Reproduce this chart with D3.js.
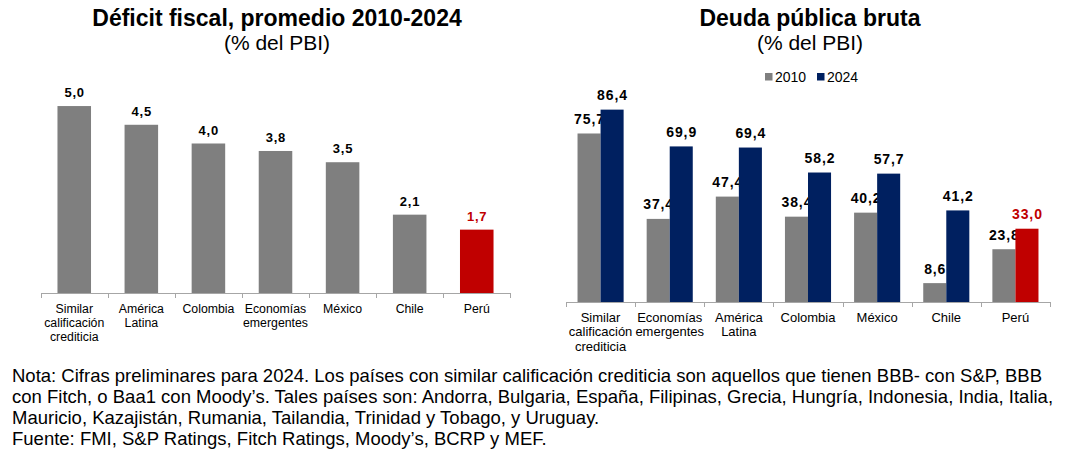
<!DOCTYPE html>
<html>
<head>
<meta charset="utf-8">
<script src="https://cdn.jsdelivr.net/npm/d3@7"></script>
<style>
  html,body{margin:0;padding:0;background:#fff;}
  svg{display:block;font-family:"Liberation Sans",Arial,sans-serif;}
  .axis path,.axis line{stroke:#A6A6A6;stroke-width:1;shape-rendering:crispEdges;}
</style>
</head>
<body>
<div id="chart"></div>
<script>
/* Two Excel-style bar panels: fiscal deficit (single series) and gross
   public debt (2010 vs 2024), plus the note lines underneath. */
var defCats=["Similar\ncalificación\ncrediticia","América\nLatina","Colombia","Economías\nemergentes","México","Chile","Perú"];
var defVals=[5.0,4.5,4.0,3.8,3.5,2.1,1.7];

var debtCats=["Similar\ncalificación\ncrediticia","Economías\nemergentes","América\nLatina","Colombia","México","Chile","Perú"];
var debt2010=[75.7,37.4,47.4,38.4,40.2,8.6,23.8];
var debt2024=[86.4,69.9,69.4,58.2,57.7,41.2,33.0];
var years=["2010","2024"];

var noteLines=[
  "Nota: Cifras preliminares para 2024. Los países con similar calificación crediticia son aquellos que tienen BBB- con S&P, BBB",
  "con Fitch, o Baa1 con Moody’s. Tales países son: Andorra, Bulgaria, España, Filipinas, Grecia, Hungría, Indonesia, India, Italia,",
  "Mauricio, Kazajistán, Rumania, Tailandia, Trinidad y Tobago, y Uruguay.",
  "Fuente: FMI, S&P Ratings, Fitch Ratings, Moody’s, BCRP y MEF."
];

var GRAY="#7F7F7F", NAVY="#002060", RED="#C00000", HIGHLIGHT="Perú";
var loc=d3.formatLocale({decimal:",",thousands:".",grouping:[3],currency:["",""]});
var fmt=loc.format(".1f");

var W=1080,H=454;
var svg=d3.select("#chart").append("svg").attr("width",W).attr("height",H).attr("viewBox","0 0 "+W+" "+H);

function titles(cx,main){
    svg.append("text").attr("x",cx).attr("y",26).attr("text-anchor","middle")
        .attr("font-size",23).attr("font-weight","bold").attr("fill","#000").text(main);
    svg.append("text").attr("x",cx).attr("y",50).attr("text-anchor","middle")
        .attr("font-size",21).attr("fill","#000").text("(% del PBI)");
}

function categoryAxis(x,y0,fs,first,lh){
    var r=x.range(), n=x.domain().length;
    var edges=d3.scaleLinear().domain([0,n]).range(r);
    svg.append("g").attr("class","axis").attr("transform","translate(0,"+y0+")")
        .call(d3.axisBottom(edges).tickValues(d3.range(n+1)).tickSize(5).tickSizeOuter(0).tickFormat(""));
    var lab=svg.append("g").attr("font-size",fs).attr("fill","#000").attr("text-anchor","middle");
    x.domain().forEach(function(c){
        var t=lab.append("text").attr("y",first);
        c.split("\n").forEach(function(s,i){
            t.append("tspan").attr("x",x(c)+x.bandwidth()/2).attr("y",first+i*lh).text(s);
        });
    });
}

/* Left panel — deficit */
function renderDeficit(){
    titles(277,"Déficit fiscal, promedio 2010-2024");
    var rows=defCats.map(function(c,i){return {cat:c,v:defVals[i]};});
    var x=d3.scaleBand().domain(defCats).range([40.7,510.3]).padding(0);
    var y=d3.scaleLinear().domain([0,6]).range([293.3,68.6]);
    var bw=x.bandwidth();

    svg.append("g").selectAll("rect").data(rows).enter().append("rect")
        .attr("x",function(d){return x(d.cat)+bw*0.25;}).attr("width",bw*0.5)
        .attr("y",function(d){return y(d.v);}).attr("height",function(d){return y(0)-y(d.v);})
        .attr("fill",function(d){return d.cat===HIGHLIGHT?RED:GRAY;});

    svg.append("g").attr("font-size",13).attr("font-weight","bold").attr("letter-spacing",0.8).attr("text-anchor","middle")
        .selectAll("text").data(rows).enter().append("text")
        .attr("x",function(d){return x(d.cat)+bw/2+0.4;}).attr("y",function(d){return y(d.v)-9;})
        .attr("fill",function(d){return d.cat===HIGHLIGHT?RED:"#000";})
        .text(function(d){return fmt(d.v);});

    categoryAxis(x,293.3,12.3,313.3,13.7);
}

/* Right panel — gross debt, 2010 vs 2024 */
function renderDebt(){
    titles(810,"Deuda pública bruta");
    var x=d3.scaleBand().domain(debtCats).range([566,1050]).padding(0);
    var xs=d3.scaleBand().domain(years).range([0,x.bandwidth()]).paddingInner(0).paddingOuter(0.5);
    var y=d3.scaleLinear().domain([0,100]).range([302.3,79.3]);
    var series=[debt2010,debt2024];

    // legend
    var lg=svg.append("g").attr("font-size",14);
    years.forEach(function(yr,i){
        lg.append("rect").attr("x",765+i*52).attr("y",73).attr("width",7.5).attr("height",7.5).attr("fill",i?NAVY:GRAY);
        lg.append("text").attr("x",775+i*52).attr("y",81.5).attr("fill","#000").text(yr);
    });

    // each series drawn with its labels so the 2024 bars sit over the 2010 labels
    years.forEach(function(yr,si){
        var rows=debtCats.map(function(c,i){return {cat:c,v:series[si][i]};});
        var col=function(d){return (si===1&&d.cat===HIGHLIGHT)?RED:(si?NAVY:GRAY);};
        svg.append("g").selectAll("rect").data(rows).enter().append("rect")
            .attr("x",function(d){return x(d.cat)+xs(yr);}).attr("width",xs.bandwidth())
            .attr("y",function(d){return y(d.v);}).attr("height",function(d){return y(0)-y(d.v);})
            .attr("fill",col);
        svg.append("g").attr("font-size",14).attr("font-weight","bold").attr("letter-spacing",0.9).attr("text-anchor","middle")
            .selectAll("text").data(rows).enter().append("text")
            .attr("x",function(d){return x(d.cat)+xs(yr)+xs.bandwidth()/2+0.45;}).attr("y",function(d){return y(d.v)-9.5;})
            .attr("fill",function(d){return (si===1&&d.cat===HIGHLIGHT)?RED:"#000";})
            .text(function(d){return fmt(d.v);});
    });

    categoryAxis(x,302.3,13,321.7,14.5);
}

function renderNotes(){
    svg.append("g").attr("font-size",18.5).attr("fill","#000")
        .selectAll("text").data(noteLines).enter().append("text")
        .attr("x",12).attr("y",function(d,i){return 382+i*21;})
        .text(function(d){return d;});
}

renderDeficit();
renderDebt();
renderNotes();
</script>
</body>
</html>
